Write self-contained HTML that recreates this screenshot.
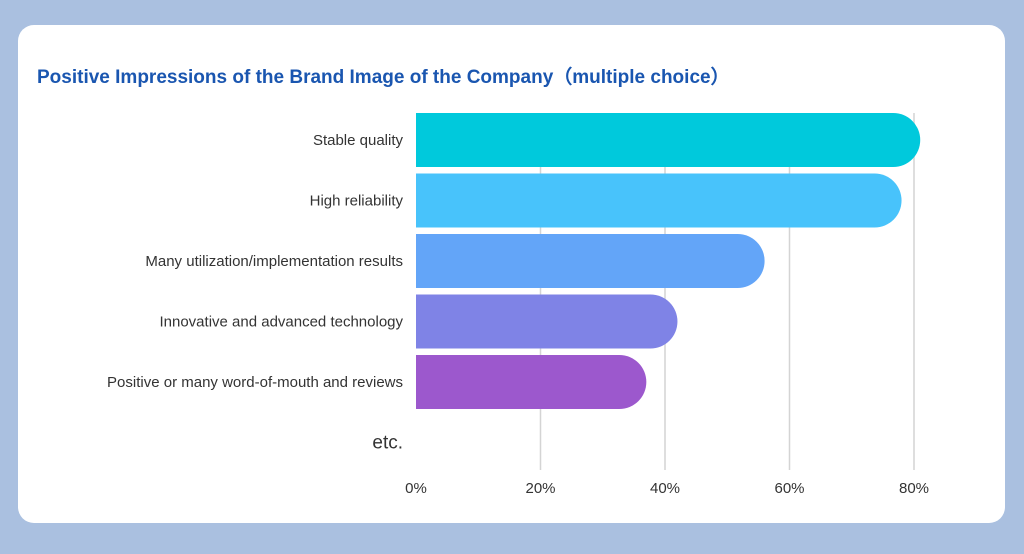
<!DOCTYPE html>
<html><head><meta charset="utf-8"><style>
body{margin:0;width:1024px;height:554px;background:#aac0e0;overflow:hidden;font-family:"Liberation Sans",sans-serif}
#card{position:absolute;left:18px;top:25px;width:987px;height:498px;background:#fff;border-radius:16px}
#title{position:absolute;left:37px;top:62px;font-size:19px;font-weight:bold;color:#1a56b0;white-space:nowrap}
</style></head><body>
<div id="card"></div>
<div id="title">Positive Impressions of the Brand Image of the Company（multiple choice）</div>
<svg id="chart" width="1024" height="554" style="position:absolute;left:0;top:0"></svg>
<script>
const categories=["Stable quality","High reliability","Many utilization/implementation results","Innovative and advanced technology","Positive or many word-of-mouth and reviews","etc."];
const values=[81,78,56,42,37,0];
const colors=["#00c9dc","#48c3fb","#63a5f8","#7f83e6","#9c58cd","#ccc"];
const ticks=[0,20,40,60,80];
const tickLabels=["0%","20%","40%","60%","80%"];
const NS="http://www.w3.org/2000/svg";
const svg=document.getElementById('chart');
const x=v=>416+v*6.225;
const y=i=>113+i*60.5;
const bh=54;
function mk(t,a){const e=document.createElementNS(NS,t);for(const k in a)e.setAttribute(k,a[k]);svg.appendChild(e);return e;}
ticks.forEach((t,i)=>{
  if(t>0){const l=mk('line',{x1:x(t),x2:x(t),y1:113,y2:470,stroke:'#d4d4d4','stroke-width':1.5});
  
  }
  const tx=mk('text',{x:x(t),y:493,'text-anchor':'middle','font-size':15,fill:'#333'});
  tx.textContent=tickLabels[i];
  
  
});
categories.forEach((c,i)=>{
  const v=values[i];
  if(v>0){
    const w=x(v)-x(0), r=bh/2, y0=y(i);
    const p=mk('path',{d:`M${x(0)},${y0} H${x(0)+w-r} A${r},${r} 0 0 1 ${x(0)+w-r},${y0+bh} H${x(0)} Z`,fill:colors[i]});
    
    
  }
  const isEtc=c==="etc.";
  const t=mk('text',{x:403,y:y(i)+bh/2+(isEtc?6:5),'text-anchor':'end','font-size':isEtc?19:15,fill:'#333'});
  t.textContent=c;
  
  
});
</script>
</body></html>
